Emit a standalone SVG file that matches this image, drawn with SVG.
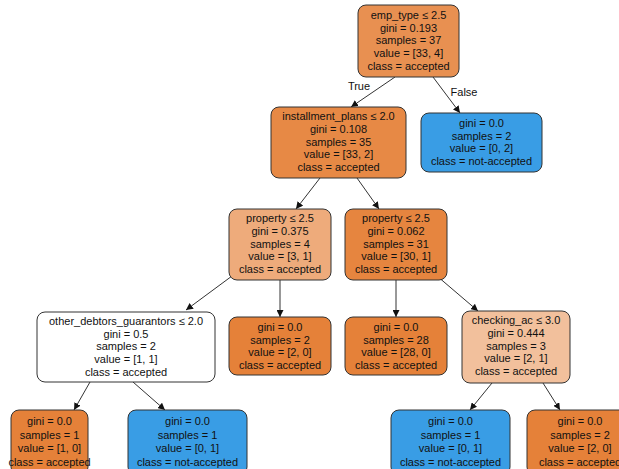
<svg xmlns="http://www.w3.org/2000/svg" width="619" height="469" viewBox="0 0 619 469">
<style>
.n rect{stroke:#333;stroke-width:1}
.n text{font-family:"Liberation Sans",Arial,sans-serif;font-size:11px;fill:#111;text-anchor:middle}
.e line{stroke:#333;stroke-width:1;marker-end:url(#ah)}
.lbl{font-family:"Liberation Sans",Arial,sans-serif;font-size:11px;fill:#111;text-anchor:middle}
</style>
<defs>
<marker id="ah" viewBox="0 0 10 10" refX="10" refY="5" markerWidth="7" markerHeight="7" markerUnits="userSpaceOnUse" orient="auto">
<path d="M0,0 L10,5 L0,10 z" fill="#111"/>
</marker>
</defs>
<rect width="619" height="469" fill="#fff"/>
<g id="connectors" class="e">
<line x1="395" y1="77" x2="351" y2="107"/>
<line x1="433" y1="77" x2="460" y2="113"/>
<line x1="320" y1="178" x2="296" y2="209"/>
<line x1="357" y1="178" x2="379" y2="209"/>
<line x1="232" y1="276" x2="186" y2="310"/>
<line x1="280" y1="280" x2="280" y2="317"/>
<line x1="396" y1="280" x2="396" y2="317"/>
<line x1="437" y1="276" x2="478" y2="311"/>
<line x1="90" y1="382" x2="74" y2="410"/>
<line x1="133" y1="382" x2="165" y2="410"/>
<line x1="492" y1="383" x2="470" y2="410"/>
<line x1="543" y1="383" x2="560" y2="410"/>
<text class="lbl" x="359" y="90">True</text>
<text class="lbl" x="464" y="96">False</text>
</g>
<g id="node0" class="n">
<rect x="358" y="5" width="101" height="72" rx="8" fill="#e89051"/>
<text x="408.5" y="19">emp_type ≤ 2.5</text>
<text x="408.5" y="32">gini = 0.193</text>
<text x="408.5" y="44">samples = 37</text>
<text x="408.5" y="57">value = [33, 4]</text>
<text x="408.5" y="70">class = accepted</text>
</g>
<g id="node12" class="n">
<rect x="421" y="113" width="121" height="59" rx="8" fill="#399de5"/>
<text x="481.5" y="127">gini = 0.0</text>
<text x="481.5" y="140">samples = 2</text>
<text x="481.5" y="152">value = [0, 2]</text>
<text x="481.5" y="165">class = not-accepted</text>
</g>
<g id="node1" class="n">
<rect x="271" y="107" width="135" height="71" rx="8" fill="#e78945"/>
<text x="338.5" y="120">installment_plans ≤ 2.0</text>
<text x="338.5" y="133">gini = 0.108</text>
<text x="338.5" y="146">samples = 35</text>
<text x="338.5" y="158">value = [33, 2]</text>
<text x="338.5" y="171">class = accepted</text>
</g>
<g id="node2" class="n">
<rect x="229" y="209" width="102" height="71" rx="8" fill="#eeab7b"/>
<text x="280" y="222">property ≤ 2.5</text>
<text x="280" y="235">gini = 0.375</text>
<text x="280" y="248">samples = 4</text>
<text x="280" y="260">value = [3, 1]</text>
<text x="280" y="273">class = accepted</text>
</g>
<g id="node7" class="n">
<rect x="345" y="209" width="102" height="71" rx="8" fill="#e6853f"/>
<text x="396" y="222">property ≤ 2.5</text>
<text x="396" y="235">gini = 0.062</text>
<text x="396" y="248">samples = 31</text>
<text x="396" y="260">value = [30, 1]</text>
<text x="396" y="273">class = accepted</text>
</g>
<g id="node6" class="n">
<rect x="229" y="317" width="102" height="58" rx="8" fill="#e58139"/>
<text x="280" y="331">gini = 0.0</text>
<text x="280" y="344">samples = 2</text>
<text x="280" y="356">value = [2, 0]</text>
<text x="280" y="369">class = accepted</text>
</g>
<g id="node8" class="n">
<rect x="345" y="317" width="102" height="58" rx="8" fill="#e58139"/>
<text x="396" y="331">gini = 0.0</text>
<text x="396" y="344">samples = 28</text>
<text x="396" y="356">value = [28, 0]</text>
<text x="396" y="369">class = accepted</text>
</g>
<g id="node3" class="n">
<rect x="37" y="312" width="178" height="70" rx="8" fill="#ffffff"/>
<text x="126" y="325">other_debtors_guarantors ≤ 2.0</text>
<text x="126" y="338">gini = 0.5</text>
<text x="126" y="350">samples = 2</text>
<text x="126" y="363">value = [1, 1]</text>
<text x="126" y="376">class = accepted</text>
</g>
<g id="node9" class="n">
<rect x="462" y="311" width="108" height="72" rx="8" fill="#f2c09c"/>
<text x="516" y="324">checking_ac ≤ 3.0</text>
<text x="516" y="337">gini = 0.444</text>
<text x="516" y="350">samples = 3</text>
<text x="516" y="362">value = [2, 1]</text>
<text x="516" y="375">class = accepted</text>
</g>
<g id="node4" class="n">
<rect x="11" y="410" width="77" height="65" rx="8" fill="#e58139"/>
<text x="49.5" y="425">gini = 0.0</text>
<text x="49.5" y="439">samples = 1</text>
<text x="49.5" y="452">value = [1, 0]</text>
<text x="49.5" y="466">class = accepted</text>
</g>
<g id="node5" class="n">
<rect x="128" y="410" width="119" height="65" rx="8" fill="#399de5"/>
<text x="187.5" y="425">gini = 0.0</text>
<text x="187.5" y="439">samples = 1</text>
<text x="187.5" y="452">value = [0, 1]</text>
<text x="187.5" y="466">class = not-accepted</text>
</g>
<g id="node10" class="n">
<rect x="391" y="410" width="119" height="65" rx="8" fill="#399de5"/>
<text x="450.5" y="425">gini = 0.0</text>
<text x="450.5" y="439">samples = 1</text>
<text x="450.5" y="452">value = [0, 1]</text>
<text x="450.5" y="466">class = not-accepted</text>
</g>
<g id="node11" class="n">
<rect x="527" y="410" width="105" height="65" rx="8" fill="#e58139"/>
<text x="580" y="425">gini = 0.0</text>
<text x="580" y="439">samples = 2</text>
<text x="580" y="452">value = [2, 0]</text>
<text x="580" y="466">class = accepted</text>
</g>
</svg>
